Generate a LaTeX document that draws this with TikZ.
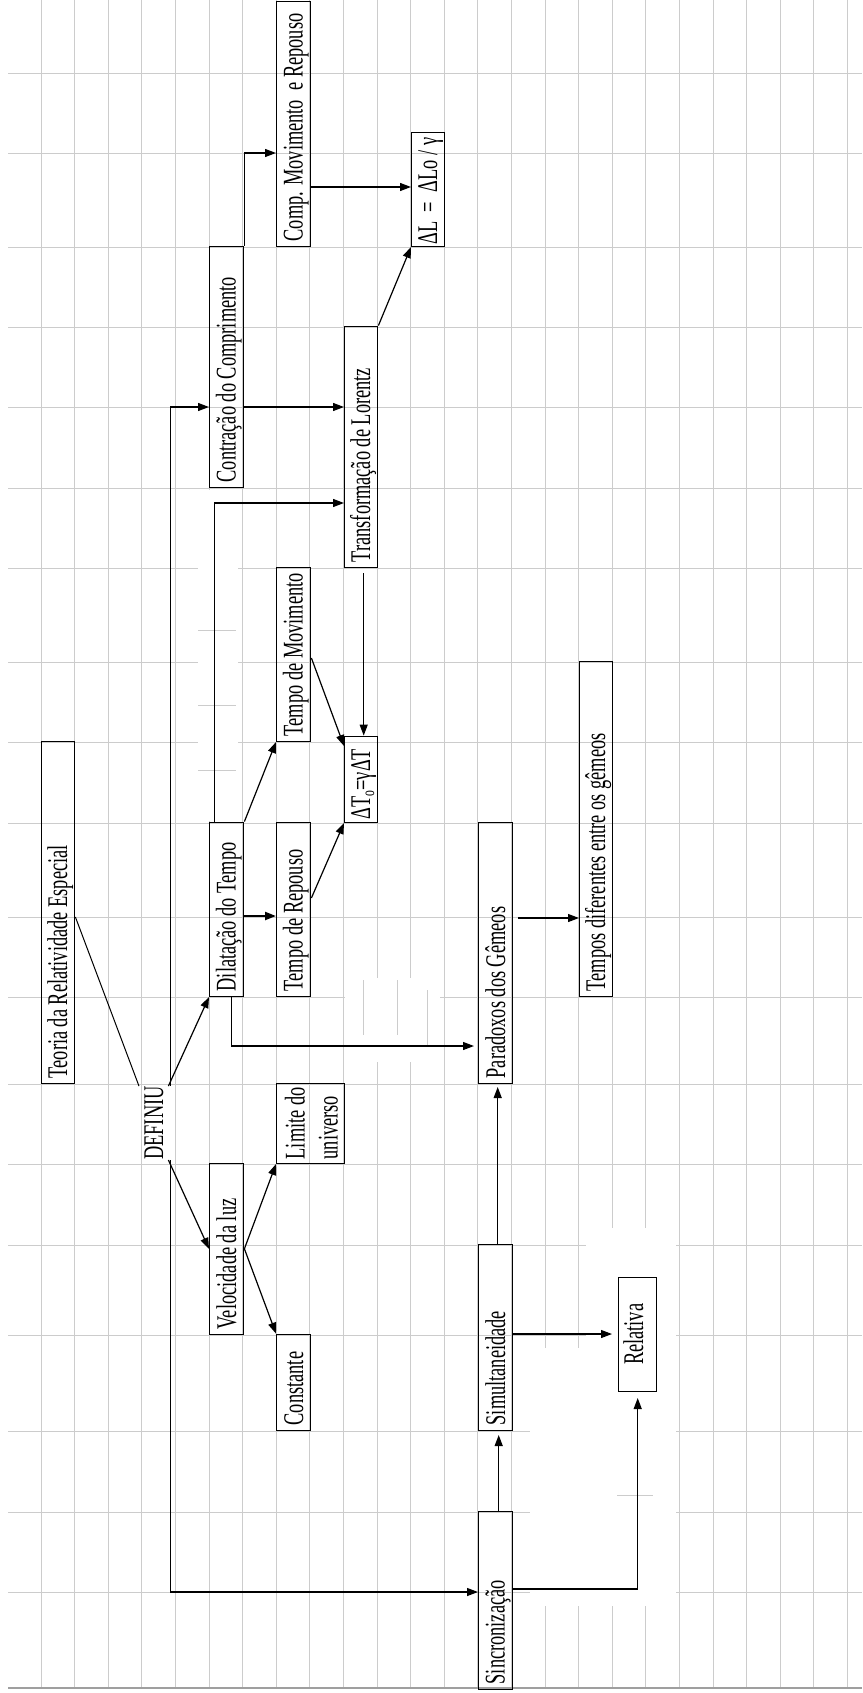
\documentclass[tikz,border=0pt]{standalone}
\usepackage{fontspec}
\setmainfont{Liberation Serif}
\usetikzlibrary{arrows.meta}
\newcommand\vtxt[1]{\rotatebox{90}{\scalebox{0.645}[1]{\fontsize{28.5}{31}\selectfont\rule[-5pt]{0pt}{29pt}#1}}}
\begin{document}
\begin{tikzpicture}[x=1pt,y=-1pt,
  gridline/.style={draw=gray!40, line width=0.9pt},
  vb/.style={draw=black, line width=1.4pt, inner sep=0pt, minimum width=34pt, text depth=5pt, anchor=south west},
  arr/.style={draw=black, line width=1.2pt, -{Triangle[length=11pt,width=8pt]}},
  ln/.style={draw=black, line width=1pt}]
\useasboundingbox (0,0) rectangle (862,1693);
\fill[white] (0,0) rectangle (862,1693);
% grid
\foreach \k in {0,...,24} \draw[gridline] ({41+33.6*\k},0) -- ({41+33.6*\k},1688);
\foreach \yy in {73,153,247,327,407,488,568,662,742,823,917,997,1084,1164,1245,1335,1431,1512,1592}
  \draw[gridline] (8,\yy) -- (862,\yy);
\draw[draw=gray!75, line width=1.4pt] (8,1688) -- (862,1688);
% erased patches of the grid
\fill[white] (198,490) rectangle (238,821);
\draw[gridline] (198,630) -- (236,630) (198,705) -- (236,705) (198,770) -- (236,770);
\fill[white] (345,978) rectangle (440,1062);
\draw[gridline] (363,980) -- (363,1035) (397,980) -- (397,1035) (427,990) -- (427,1045);
\fill[white] (530,1348) rectangle (676,1606);
\fill[white] (586,1228) rectangle (676,1348);
\draw[gridline] (617,1495) -- (653,1495);
% nodes
\node[vb, text height=240pt] (comp) at (276,247) {\vtxt{Comp. Movimento\ \ e Repouso}};
\node[vb, minimum width=33pt, text depth=2pt, text height=112pt] (dl) at (411,247) {\vtxt{ΔL\ \ =\ \ ΔLo / γ}};
\node[vb, text height=236pt] (contr) at (209,488) {\vtxt{Contração do Comprimento}};
\node[vb, minimum width=33pt, text height=236pt] (transf) at (344,568) {\vtxt{Transformação de Lorentz}};
\node[vb, text height=169pt] (tmov) at (276,742) {\vtxt{Tempo de Movimento}};
\node[vb, minimum width=33pt, text depth=3pt, text height=83pt] (dto) at (344,823) {\vtxt{ΔT\raisebox{-4pt}{\fontsize{18}{18}\selectfont o}=γΔT}};
\node[vb, text height=169pt] (dil) at (209,997) {\vtxt{Dilatação do Tempo}};
\node[vb, text height=169pt] (trep) at (276,997) {\vtxt{Tempo de Repouso}};
\node[vb, minimum width=33pt, text height=337pt] (teoria) at (41,1084) {\vtxt{Teoria da Relatividade Especial}};
\node[vb, text height=256pt] (parad) at (478,1084) {\vtxt{Paradoxos dos Gêmeos}};
\node[vb, minimum width=33pt, text height=330pt] (tdif) at (579,997) {\vtxt{Tempos diferentes entre os gêmeos}};
\node[inner sep=0pt, anchor=south west] (definiu) at (139,1160) {\vtxt{DEFINIU}};
\node[vb, minimum width=68pt, text depth=4pt, text height=76pt] (lim) at (276,1164)
  {\rotatebox{90}{\scalebox{0.645}[1]{\fontsize{28.5}{33}\selectfont\vbox{\baselineskip=33pt\hbox{\rule{0pt}{28pt}Limite do}\hbox{\rule[-7pt]{0pt}{0pt}universo}}}}};
\node[vb, text height=166pt] (vel) at (209,1335) {\vtxt{Velocidade da luz}};
\node[vb, text height=91pt] (const) at (276,1431) {\vtxt{Constante}};
\node[vb, text height=181pt] (simul) at (478,1431) {\vtxt{Simultaneidade}};
\node[draw=black, line width=1.4pt, inner sep=0pt, minimum width=38pt, minimum height=114pt, anchor=south west] (relat) at (618,1392)
  {\rotatebox{90}{\scalebox{0.645}[1]{\fontsize{28.5}{31}\selectfont\rule[-9pt]{0pt}{25pt}Relativa}}};
\node[vb, text height=173pt] (sinc) at (478,1690) {\vtxt{Sincronização}};
% connectors
\draw[ln] (teoria.east |- 0,917) -- (definiu.north west);
\draw[arr] (definiu.north east) -- (dil.south west);
\draw[arr] (definiu.south east) -- (vel.west);
\draw[arr] ([xshift=2pt]definiu.north east) |- (contr.west |- 0,407);
\draw[arr] ([xshift=2pt]definiu.south east) |- (sinc.west |- 0,1592);
\draw[arr] (dil.north east) -- (tmov.south west);
\draw[arr, line width=2.2pt] (dil.east |- 0,916) -- (trep.west |- 0,916);
\draw[arr] (trep.east |- 0,898) -- (dto.south west);
\draw[arr] (tmov.east |- 0,658) -- (dto.west |- 0,746);
\draw[arr, shorten <=5pt] ([xshift=2.5pt]transf.south) -- ([xshift=2.5pt]dto.north);
\draw[arr] ([xshift=-12pt]dil.north) |- (transf.west |- 0,503);
\draw[arr] (contr.east |- 0,407) -- (transf.west |- 0,407);
\draw[arr] (contr.north east) |- (comp.west |- 0,153);
\draw[arr] (comp.east |- 0,187) -- (dl.west |- 0,187);
\draw[arr] (transf.north east) -- (dl.south west);
\draw[arr, shorten >=4pt] ([xshift=5pt]dil.south) |- (parad.west |- 0,1046);
\draw[arr, shorten <=5pt] (parad.east |- 0,918) -- (tdif.west |- 0,918);
\draw[arr, shorten >=3pt] ([xshift=2pt]simul.north) -- ([xshift=2pt]parad.south);
\draw[arr, shorten >=6pt] (simul.east |- 0,1334) -- (relat.west |- 0,1334);
\draw[arr, shorten >=4pt] ([xshift=3pt]sinc.north) -- ([xshift=3pt]simul.south);
\draw[arr, shorten >=6pt] (sinc.east |- 0,1589) -| (relat.south);
\draw[arr] (vel.east) -- (lim.south west);
\draw[arr] (vel.east) -- (const.north west);
\end{tikzpicture}
\end{document}
